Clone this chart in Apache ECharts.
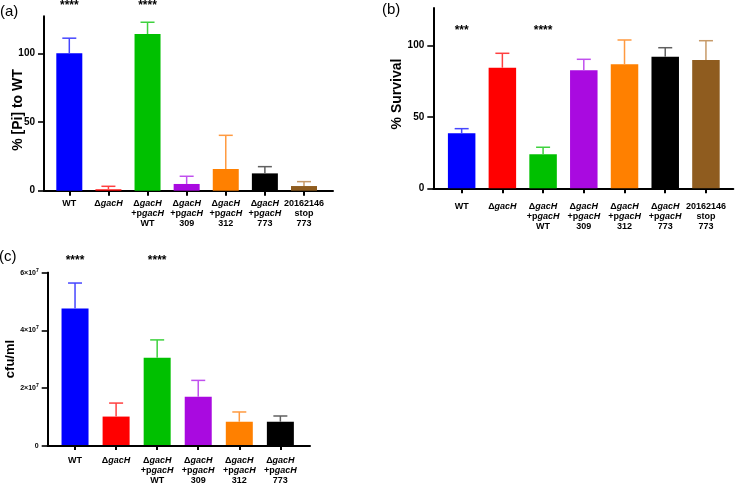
<!DOCTYPE html>
<html>
<head>
<meta charset="utf-8">
<script src="https://cdn.jsdelivr.net/npm/echarts@6/dist/echarts.min.js"></script>
<style>html,body{margin:0;padding:0;background:#fff}#c{width:735px;height:486px}</style>
</head>
<body>
<div id="c"></div>
<script>
// ---------- data ----------
const categoriesAB = ['WT', 'ΔgacH', 'ΔgacH\n+pgacH\nWT', 'ΔgacH\n+pgacH\n309', 'ΔgacH\n+pgacH\n312', 'ΔgacH\n+pgacH\n773', '20162146\nstop\n773'];
const categoriesC = ['WT', 'ΔgacH', 'ΔgacH\n+pgacH\nWT', 'ΔgacH\n+pgacH\n309', 'ΔgacH\n+pgacH\n312', 'ΔgacH\n+pgacH\n773'];
const piMean = [100, 1, 114, 4.9, 15.8, 12.6, 3.4];
const piUpper = [111, 3.2, 122.6, 10.5, 40.3, 17.5, 6.6];
const survivalMean = [38.5, 84.3, 23.8, 82.5, 86.7, 92, 89.7];
const survivalUpper = [41.7, 94.4, 28.7, 90.2, 103.7, 98.3, 103.2];
const cfuMean = [4.75e7, 0.99e7, 3.04e7, 1.68e7, 0.81e7, 0.81e7];
const cfuUpper = [5.64e7, 1.46e7, 3.66e7, 2.25e7, 1.15e7, 1.01e7];
const starsA = ['****', '', '****', '', '', '', ''];
const starsB = ['***', '', '****', '', '', '', ''];
const starsC = ['****', '', '****', '', '', ''];
const yTicksA = [0, 50, 100];
const yTicksB = [0, 50, 100];
const yTicksC = [0, 2e7, 4e7, 6e7];

// ---------- styles ----------
const barColors = ['#0000ff', '#ff0000', '#00c000', '#a90ae0', '#ff8000', '#000000', '#8f5c1f'];
const errColors = ['#4646ff', '#ff4040', '#3ed23e', '#c050ee', '#ff9a40', '#606060', '#c79a68'];
const FONT = '"Liberation Sans", Arial, Helvetica, sans-serif';

function catFormatter(v) {
  return v.split('\n').map(line => {
    if (line === 'ΔgacH') return '{n|Δ}{i|gacH}';
    if (line === '+pgacH') return '{n|+p}{i|gacH}';
    return '{n|' + line + '}';
  }).join('\n');
}
const catRich = {
  n: { fontFamily: FONT, fontWeight: 'bold', fontSize: 9, lineHeight: 10, color: '#000' },
  i: { fontFamily: FONT, fontWeight: 'bold', fontStyle: 'italic', fontSize: 9, lineHeight: 10, color: '#000' }
};

function errRender(params, api) {
  const i = api.value(0);
  const top = api.coord([i, api.value(1)]);
  const base = api.coord([i, api.value(2)]);
  const col = errColors[params.dataIndex];
  return {
    type: 'group',
    children: [
      { type: 'line', shape: { x1: top[0], y1: top[1], x2: base[0], y2: base[1] }, style: { stroke: col, lineWidth: 1.5 } },
      { type: 'line', shape: { x1: top[0] - 7, y1: top[1], x2: top[0] + 7, y2: top[1] }, style: { stroke: col, lineWidth: 1.5 } }
    ]
  };
}
function starRender(params, api) {
  const p = api.coord([api.value(0), api.value(1)]);
  return {
    type: 'text', x: p[0], y: p[1],
    style: { text: api.value(2), fontFamily: FONT, fontSize: 12, fontWeight: 'bold', fill: '#000', align: 'center', verticalAlign: 'middle' }
  };
}

const panels = [
  { cats: categoriesAB, mean: piMean, upper: piUpper, stars: starsA, starLevel: 135, max: 127, ticks: yTicksA,
    top: 16.2, height: 174.5, barsLeft: 49.75, barsWidth: 273.8, axisLeft: 44, axisWidth: 289,
    labelMargin: 8, barWidth: 26, yFont: 10, yFmt: v => String(v) },
  { cats: categoriesAB, mean: survivalMean, upper: survivalUpper, stars: starsB, starLevel: 110, max: 126, ticks: yTicksB,
    top: 8.1, height: 180.2, barsLeft: 441.3, barsWidth: 285, axisLeft: 433.3, axisWidth: 300,
    labelMargin: 13, barWidth: 27.5, yFont: 10, yFmt: v => String(v) },
  { cats: categoriesC, mean: cfuMean, upper: cfuUpper, stars: starsC, starLevel: 6.42e7, max: 6e7, ticks: yTicksC,
    top: 272.7, height: 173.3, barsLeft: 54.5, barsWidth: 246.4, axisLeft: 47.7, axisWidth: 262.3,
    labelMargin: 11, barWidth: 27, yFont: 7, yFmt: v => v === 0 ? '0' : (v / 1e7) + '×10{s|7}' }
];

const grid = [], xAxis = [], yAxis = [], series = [];
panels.forEach(p => {
  const tickMax = p.ticks[p.ticks.length - 1];
  const tickInterval = p.ticks[1] - p.ticks[0];
  const gBars = grid.length;
  grid.push({ left: p.barsLeft, top: p.top, width: p.barsWidth, height: p.height });
  const gAxis = grid.length;
  grid.push({ left: p.axisLeft, top: p.top, width: p.axisWidth, height: p.height });
  const gTick = grid.length;
  const tickH = p.height * tickMax / p.max;
  grid.push({ left: p.axisLeft, top: p.top + p.height - tickH, width: p.axisWidth, height: tickH });

  // bars grid: category axis with ticks and labels
  xAxis.push({
    type: 'category', gridIndex: gBars, data: p.cats,
    axisLine: { show: false },
    axisTick: { show: true, alignWithLabel: true, length: 5, lineStyle: { color: '#000', width: 2 } },
    axisLabel: { interval: 0, margin: p.labelMargin, formatter: catFormatter, rich: catRich, lineHeight: 10 },
    splitLine: { show: false }
  });
  yAxis.push({ type: 'value', gridIndex: gBars, min: 0, max: p.max, show: false, splitLine: { show: false } });
  const xi = xAxis.length - 1, yi = yAxis.length - 1;

  // axis-line grid
  xAxis.push({
    type: 'value', gridIndex: gAxis, min: 0, max: 1,
    axisLine: { show: true, onZero: false, lineStyle: { color: '#000', width: 2 } },
    axisTick: { show: false }, axisLabel: { show: false }, splitLine: { show: false }
  });
  yAxis.push({
    type: 'value', gridIndex: gAxis, min: 0, max: p.max,
    axisLine: { show: true, onZero: false, lineStyle: { color: '#000', width: 2 } },
    axisTick: { show: false }, axisLabel: { show: false }, splitLine: { show: false }
  });

  // tick grid: y ticks and labels up to the last tick value
  xAxis.push({ type: 'value', gridIndex: gTick, min: 0, max: 1, show: false });
  yAxis.push({
    type: 'value', gridIndex: gTick, min: 0, max: tickMax, interval: tickInterval,
    axisLine: { show: true, onZero: false, lineStyle: { color: '#000', width: 2 } },
    axisTick: { show: true, inside: false, length: 6, lineStyle: { color: '#000', width: 1.6 } },
    axisLabel: {
      show: true, margin: 9,
      formatter: v => p.yFmt(v),
      fontFamily: FONT, fontWeight: 'bold', fontSize: p.yFont, color: '#000',
      rich: { s: { fontFamily: FONT, fontWeight: 'bold', fontSize: 5, verticalAlign: 'top', padding: [0, 0, 5, 0], color: '#000' } }
    },
    splitLine: { show: false }
  });

  series.push({
    type: 'bar', xAxisIndex: xi, yAxisIndex: yi, barWidth: p.barWidth,
    data: p.mean.map((v, i) => ({ value: v, itemStyle: { color: barColors[i] } })),
    silent: true, animation: false
  });
  series.push({
    type: 'custom', xAxisIndex: xi, yAxisIndex: yi, renderItem: errRender, z: 3,
    data: p.mean.map((v, i) => [i, p.upper[i], v]), silent: true, animation: false
  });
  series.push({
    type: 'custom', xAxisIndex: xi, yAxisIndex: yi, renderItem: starRender, clip: false, z: 4,
    data: p.stars.map((s, i) => [i, p.starLevel, s]).filter(d => d[2] !== ''), silent: true, animation: false
  });
});

const titleStyle = { fontFamily: FONT, fontWeight: 'bold', fontSize: 14, fill: '#000', align: 'center', verticalAlign: 'middle' };
const panelStyle = { fontFamily: FONT, fontSize: 15, fill: '#000', align: 'left', verticalAlign: 'middle' };

const option = {
  animation: false,
  grid, xAxis, yAxis, series,
  graphic: [
    { type: 'text', x: 18.3, y: 110, rotation: Math.PI / 2, style: Object.assign({ text: '% [Pi] to WT' }, titleStyle) },
    { type: 'text', x: 397, y: 94, rotation: Math.PI / 2, style: Object.assign({ text: '% Survival' }, titleStyle) },
    { type: 'text', x: 10, y: 359, rotation: Math.PI / 2, style: Object.assign({ text: 'cfu/ml' }, titleStyle, { fontSize: 13 }) },
    { type: 'text', x: 0, y: 11.5, style: Object.assign({ text: '(a)' }, panelStyle) },
    { type: 'text', x: 382, y: 9.5, style: Object.assign({ text: '(b)' }, panelStyle) },
    { type: 'text', x: -1, y: 256.5, style: Object.assign({ text: '(c)' }, panelStyle) }
  ]
};
const chart = echarts.init(document.getElementById('c'), null, { renderer: 'canvas' });
chart.setOption(option);
</script>
</body>
</html>
